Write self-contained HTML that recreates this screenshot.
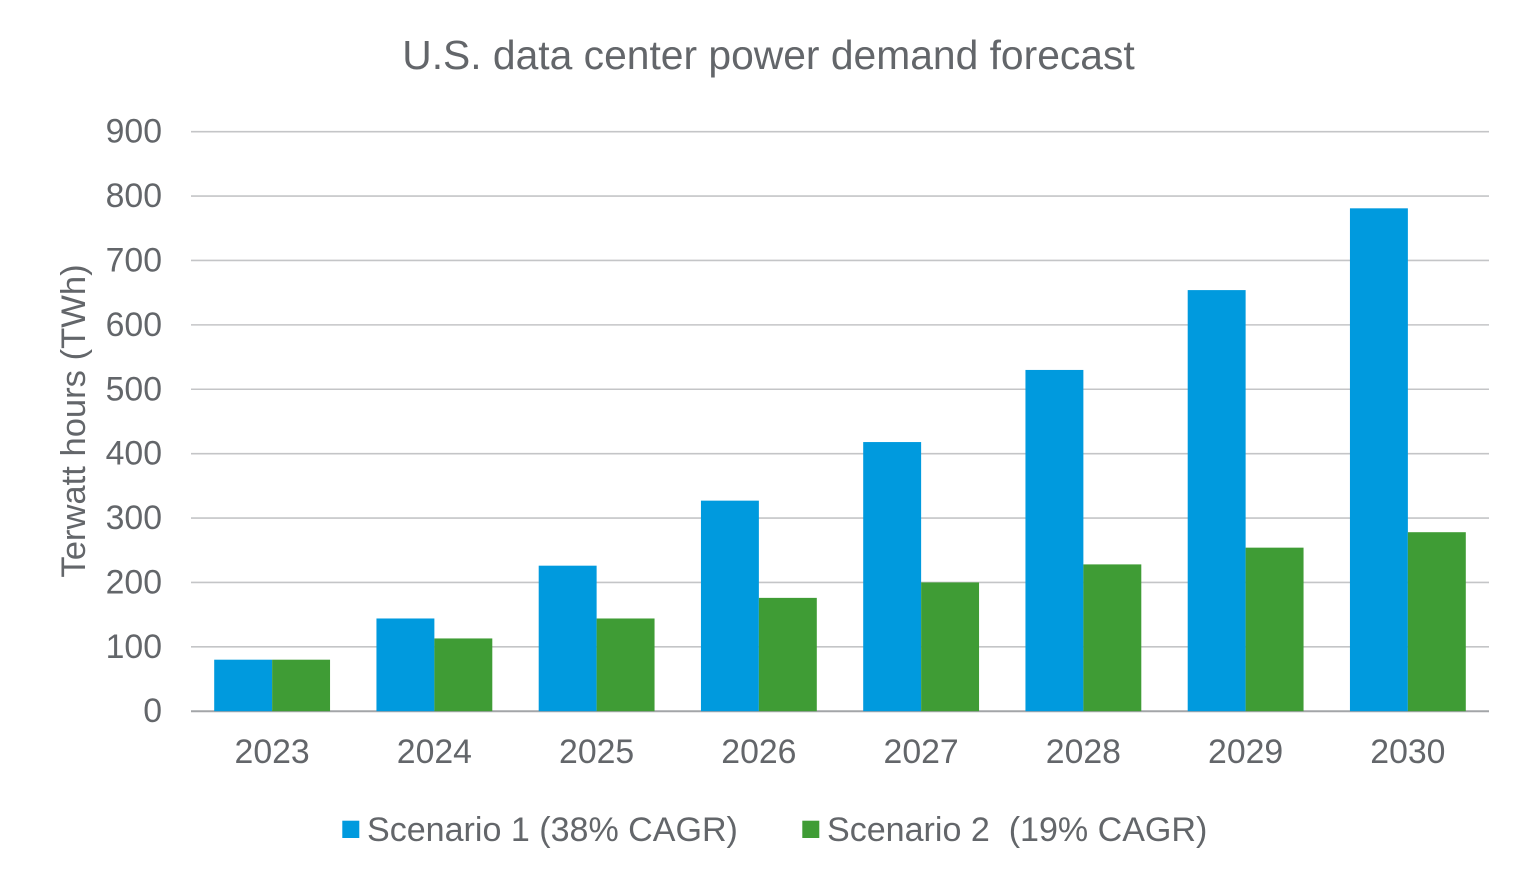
<!DOCTYPE html>
<html lang="en">
<head>
<meta charset="utf-8">
<title>U.S. data center power demand forecast</title>
<style>
html,body{margin:0;padding:0;background:#fff;width:1536px;height:887px;overflow:hidden}
svg{display:block}
text{font-family:"Liberation Sans",Arial,sans-serif;fill:#63666a}
</style>
</head>
<body>
<svg id="chart" width="1536" height="887" viewBox="0 0 1536 887" xmlns="http://www.w3.org/2000/svg">
<text x="768.5" y="69" text-anchor="middle" font-size="40.8">U.S. data center power demand forecast</text>
<text transform="translate(85,421) rotate(-90)" text-anchor="middle" font-size="34.6">Terwatt hours (TWh)</text>
<g id="grid"></g>
<g id="bars"></g>
<g id="yticks"></g>
<g id="xticks"></g>
<g>
<rect x="342.3" y="820.7" width="17" height="17.3" fill="#009ade"/>
<text x="367" y="841" font-size="34.05">Scenario 1 (38% CAGR)</text>
<rect x="802.3" y="820.7" width="17" height="17.3" fill="#3f9c35"/>
<text x="827" y="841" font-size="34.05" xml:space="preserve">Scenario 2  (19% CAGR)</text>
</g>
</svg>
<script>
const categories = ["2023","2024","2025","2026","2027","2028","2029","2030"];
const scenario1 = [80,144,226,327,418,530,654,781];
const scenario2 = [80,113,144,176,200,228,254,278];
const yTicks = [0,100,200,300,400,500,600,700,800,900];

const NS = "http://www.w3.org/2000/svg";
const plot = {left:191, right:1489, top:131.7, bottom:711.2, max:900};
const yScale = v => plot.bottom - (v / plot.max) * (plot.bottom - plot.top);
const bandWidth = (plot.right - plot.left) / categories.length;
const xBand = i => plot.left + bandWidth * i;
const barWidth = bandWidth * 0.357;

const grid = document.getElementById("grid");
const yG = document.getElementById("yticks");
const xG = document.getElementById("xticks");
const barsG = document.getElementById("bars");

yTicks.forEach(t => {
  const y = yScale(t);
  const line = document.createElementNS(NS, "line");
  
  
  line.setAttribute("x1", plot.left);
  line.setAttribute("x2", plot.right);
  line.setAttribute("y1", y);
  line.setAttribute("y2", y);
  line.setAttribute("stroke", t === 0 ? "#a3a5a8" : "#c4c5c7");
  line.setAttribute("stroke-width", t === 0 ? 2 : 1.6);
  grid.appendChild(line);
  const label = document.createElementNS(NS, "text");
  
  
  label.setAttribute("x", 162);
  label.setAttribute("y", y + 11);
  label.setAttribute("text-anchor", "end");
  label.setAttribute("font-size", "33.8");
  label.textContent = t;
  yG.appendChild(label);
});

categories.forEach((c, i) => {
  const center = xBand(i) + bandWidth / 2;
  const b1 = document.createElementNS(NS, "rect");
  
  
  b1.setAttribute("x", center - barWidth);
  b1.setAttribute("width", barWidth);
  b1.setAttribute("y", yScale(scenario1[i]));
  b1.setAttribute("height", plot.bottom - yScale(scenario1[i]));
  b1.setAttribute("fill", "#009ade");
  barsG.appendChild(b1);
  const b2 = document.createElementNS(NS, "rect");
  
  
  b2.setAttribute("x", center);
  b2.setAttribute("width", barWidth);
  b2.setAttribute("y", yScale(scenario2[i]));
  b2.setAttribute("height", plot.bottom - yScale(scenario2[i]));
  b2.setAttribute("fill", "#3f9c35");
  barsG.appendChild(b2);
  const label = document.createElementNS(NS, "text");
  
  
  label.setAttribute("x", center);
  label.setAttribute("y", 763);
  label.setAttribute("text-anchor", "middle");
  label.setAttribute("font-size", "33.8");
  label.textContent = c;
  xG.appendChild(label);
});
</script>
</body>
</html>
